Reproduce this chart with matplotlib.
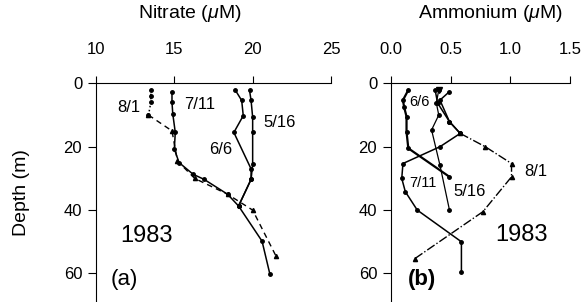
import matplotlib
matplotlib.use('Agg')
import matplotlib.pyplot as plt

plt.rcParams['font.family'] = 'Liberation Sans'
plt.rcParams['mathtext.fontset'] = 'custom'
plt.rcParams['mathtext.it'] = 'Liberation Sans:italic'

# nitrate profiles (uM vs depth m)
no3_0516 = [19.8, 19.9, 20.0, 20.0, 20.0, 19.9, 19.1, 20.6, 21.1]
no3_0516_z = [2.2, 5.4, 10.7, 15.5, 25.5, 30.3, 38.7, 49.8, 60.2]
no3_0606 = [18.9, 19.3, 19.4, 18.8, 19.9, 19.9, 19.1]
no3_0606_z = [2.2, 5.4, 10.2, 15.5, 27.0, 30.3, 38.7]
no3_0711 = [14.85, 14.85, 14.9, 15.06, 15.0, 15.3, 16.2, 16.9, 18.4, 19.1]
no3_0711_z = [2.8, 6.0, 9.6, 15.5, 20.7, 25.0, 28.7, 30.3, 35.0, 38.7]
no3_0801 = [13.5, 13.5, 13.5, 13.35, 14.85, 15.2, 16.3, 18.4, 20.0, 21.5]
no3_0801_z = [2.0, 4.0, 6.0, 10.0, 15.0, 24.5, 30.0, 35.0, 40.0, 54.6]

# ammonium profiles
nh4_0516 = [0.40, 0.38, 0.40, 0.34, 0.41, 0.49]
nh4_0516_z = [2.1, 6.2, 10.0, 14.7, 25.8, 40.0]
nh4_0606 = [0.145, 0.10, 0.11, 0.13, 0.13, 0.145, 0.49]
nh4_0606_z = [2.1, 5.3, 7.5, 10.5, 15.3, 20.5, 29.5]
nh4_0711 = [0.37, 0.39, 0.49, 0.58, 0.41, 0.10, 0.09, 0.12, 0.22, 0.59, 0.59]
nh4_0711_z = [2.1, 6.2, 12.1, 15.8, 20.0, 25.3, 30.0, 34.2, 40.0, 50.0, 59.5]
nh4_0801 = [0.49, 0.41, 0.49, 0.58, 0.79, 1.01, 1.01, 0.77, 0.20]
nh4_0801_z = [2.6, 5.3, 12.1, 15.8, 20.0, 25.3, 29.5, 40.5, 55.3]

fig = plt.figure(figsize=(5.83, 3.02), dpi=100)
axa = fig.add_axes([0.1647, 0.0, 0.403, 0.724])
axb = fig.add_axes([0.6707, 0.0, 0.307, 0.724])

mk = dict(color='black', marker='o', markersize=2.5, lw=1.1)
axa.plot(no3_0516, no3_0516_z, **mk)
axa.plot(no3_0606, no3_0606_z, **mk)
axa.plot(no3_0711, no3_0711_z, **mk)
axa.plot(no3_0801[:4], no3_0801_z[:4], ':', color='black', marker='o', markersize=2.5, lw=1.1)
axa.plot(no3_0801[3:], no3_0801_z[3:], '--', color='black', marker='^', markersize=3, lw=1.0, dashes=(4, 3))

axb.plot(nh4_0516, nh4_0516_z, color='black', marker='o', markersize=2.5, lw=0.9)
axb.plot(nh4_0516[:1], nh4_0516_z[:1], 'v', color='black', markersize=5)
axb.plot(nh4_0606, nh4_0606_z, color='black', marker='o', markersize=2.5, lw=1.6)
axb.plot(nh4_0711, nh4_0711_z, **mk)
axb.plot(nh4_0801[:4], nh4_0801_z[:4], color='black', marker='o', markersize=2.5, lw=1.1)
axb.plot(nh4_0801[3:], nh4_0801_z[3:], '-.', color='black', marker='^', markersize=3, lw=1.0)

for ax, xl, xt in [(axa, (10, 25), [10, 15, 20, 25]), (axb, (0, 1.5), [0.0, 0.5, 1.0, 1.5])]:
    ax.set_xlim(*xl)
    ax.set_ylim(69, 0)
    ax.set_xticks(xt)
    ax.set_yticks([0, 20, 40, 60])
    ax.xaxis.tick_top()
    ax.spines['right'].set_visible(False)
    ax.spines['bottom'].set_visible(False)
    ax.tick_params(axis='x', direction='out', length=5, pad=14, labelsize=12)
    ax.tick_params(axis='y', direction='out', length=6, pad=4, labelsize=12)
    ax.patch.set_alpha(0)

axb.set_xticklabels(['0.0', '0.5', '1.0', '1.5'])

# labels
axa.text(12.1, 7.5, '8/1', fontsize=12, ha='center', va='center')
axa.text(16.6, 6.6, '7/11', fontsize=12, ha='center', va='center')
axa.text(21.7, 12.5, '5/16', fontsize=12, ha='center', va='center')
axa.text(17.95, 20.8, '6/6', fontsize=12, ha='center', va='center')
axa.text(13.2, 48.3, '1983', fontsize=17, ha='center', va='center')
axa.text(11.8, 62.0, '(a)', fontsize=16, ha='center', va='center')

axb.text(0.24, 6.0, '6/6', fontsize=10.5, ha='center', va='center')
axb.text(1.21, 27.7, '8/1', fontsize=12, ha='center', va='center')
axb.text(0.27, 31.5, '7/11', fontsize=10.5, ha='center', va='center')
axb.text(0.66, 34.0, '5/16', fontsize=12, ha='center', va='center')
axb.text(1.09, 47.8, '1983', fontsize=17, ha='center', va='center')
axb.text(0.26, 62.0, '(b)', fontsize=16, ha='center', va='center', fontweight='bold')

fig.text(190 / 583, 1 - 13 / 302, r'Nitrate ($\mathit{\mu}$M)', fontsize=14, ha='center', va='center')
fig.text(490 / 583, 1 - 13 / 302, r'Ammonium ($\mathit{\mu}$M)', fontsize=14, ha='center', va='center')
fig.text(22 / 583, 1 - 193 / 302, 'Depth (m)', fontsize=14, rotation=90, ha='center', va='center')

fig.savefig('out.png', dpi=100)
